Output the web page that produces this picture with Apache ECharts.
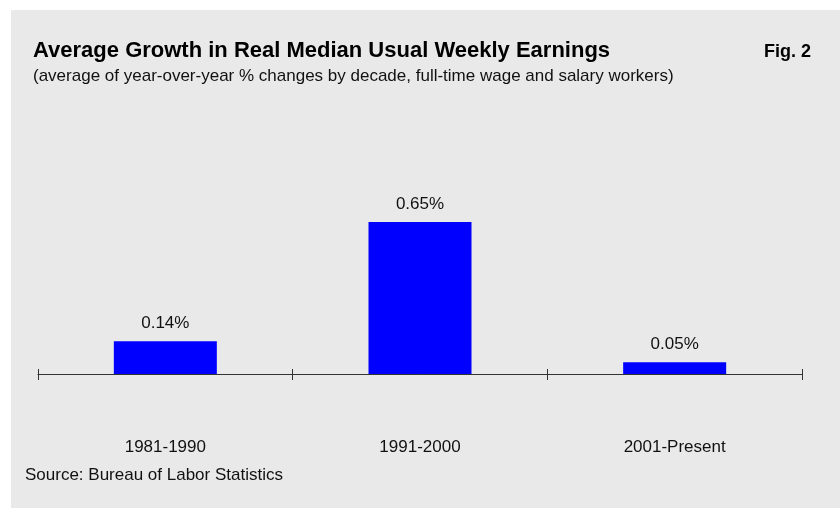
<!DOCTYPE html>
<html>
<head>
<meta charset="utf-8">
<script src="https://cdn.jsdelivr.net/npm/echarts@6/dist/echarts.min.js"></script>
<style>
html, body { margin: 0; padding: 0; background: #fff; }
#chart { width: 840px; height: 508px; }
</style>
</head>
<body>
<div id="chart"></div>
<script>
var decades	= ['1981-1990', '1991-2000', '2001-Present'];
var growth	= [0.14, 0.65, 0.05];

var font = 'Liberation Sans, Arial, sans-serif';
var chart = echarts.init(document.getElementById('chart'));

var option = {
    animation: false,
    backgroundColor: '#fff',
    graphic: [
	{
	    type: 'rect', z: -10, silent: true,
	    shape: { x: 11, y: 10, width: 829, height: 498 },
	    style: { fill: '#e9e9e9' }
	},
	{
	    type: 'text', left: 25, top: 467,
	    style: { text: 'Source: Bureau of Labor Statistics', fill: '#111', font: '17px ' + font }
	}
    ],
    title: [
	{
	    left: 33, top: 40,
	    text: 'Average Growth in Real Median Usual Weekly Earnings',
	    textStyle: { fontFamily: font, fontSize: 22, fontWeight: 'bold', color: '#000' },
	    subtext: '(average of year-over-year % changes by decade, full-time wage and salary workers)',
	    subtextStyle: { fontFamily: font, fontSize: 17, color: '#111' },
	    itemGap: 6,
	    padding: 0
	},
	{
	    right: 29, top: 43, padding: 0,
	    text: 'Fig. 2',
	    textStyle: { fontFamily: font, fontSize: 18, fontWeight: 'bold', color: '#000' }
	}
    ],
    grid: { left: 38, right: 38, top: 140, bottom: 134, containLabel: false },
    xAxis: [
	{
	    type: 'category',
	    data: decades,
	    position: 'bottom',
	    axisLine: { lineStyle: { color: '#333', width: 1 } },
	    axisTick: { show: true, length: 6, lineStyle: { color: '#333' } },
	    axisLabel: { margin: 65, fontFamily: font, fontSize: 17, color: '#111' }
	},
	{
	    type: 'category',
	    data: decades,
	    position: 'bottom',
	    axisLine: { show: false },
	    axisTick: { show: true, inside: true, length: 5, lineStyle: { color: '#333' } },
	    axisLabel: { show: false }
	}
    ],
    yAxis: {
	type: 'value', min: 0, max: 1, show: false,
	splitLine: { show: false }
    },
    series: [
	{
	    type: 'bar',
	    data: growth,
	    barWidth: 103,
	    itemStyle: { color: '#0000ff' },
	    label: {
		show: true, position: 'top', distance: 9,
		fontFamily: font, fontSize: 17, color: '#111',
		formatter: function (p) { return p.value.toFixed(2) + '%'; }
	    }
	}
    ]
};
chart.setOption(option);
</script>
</body>
</html>
